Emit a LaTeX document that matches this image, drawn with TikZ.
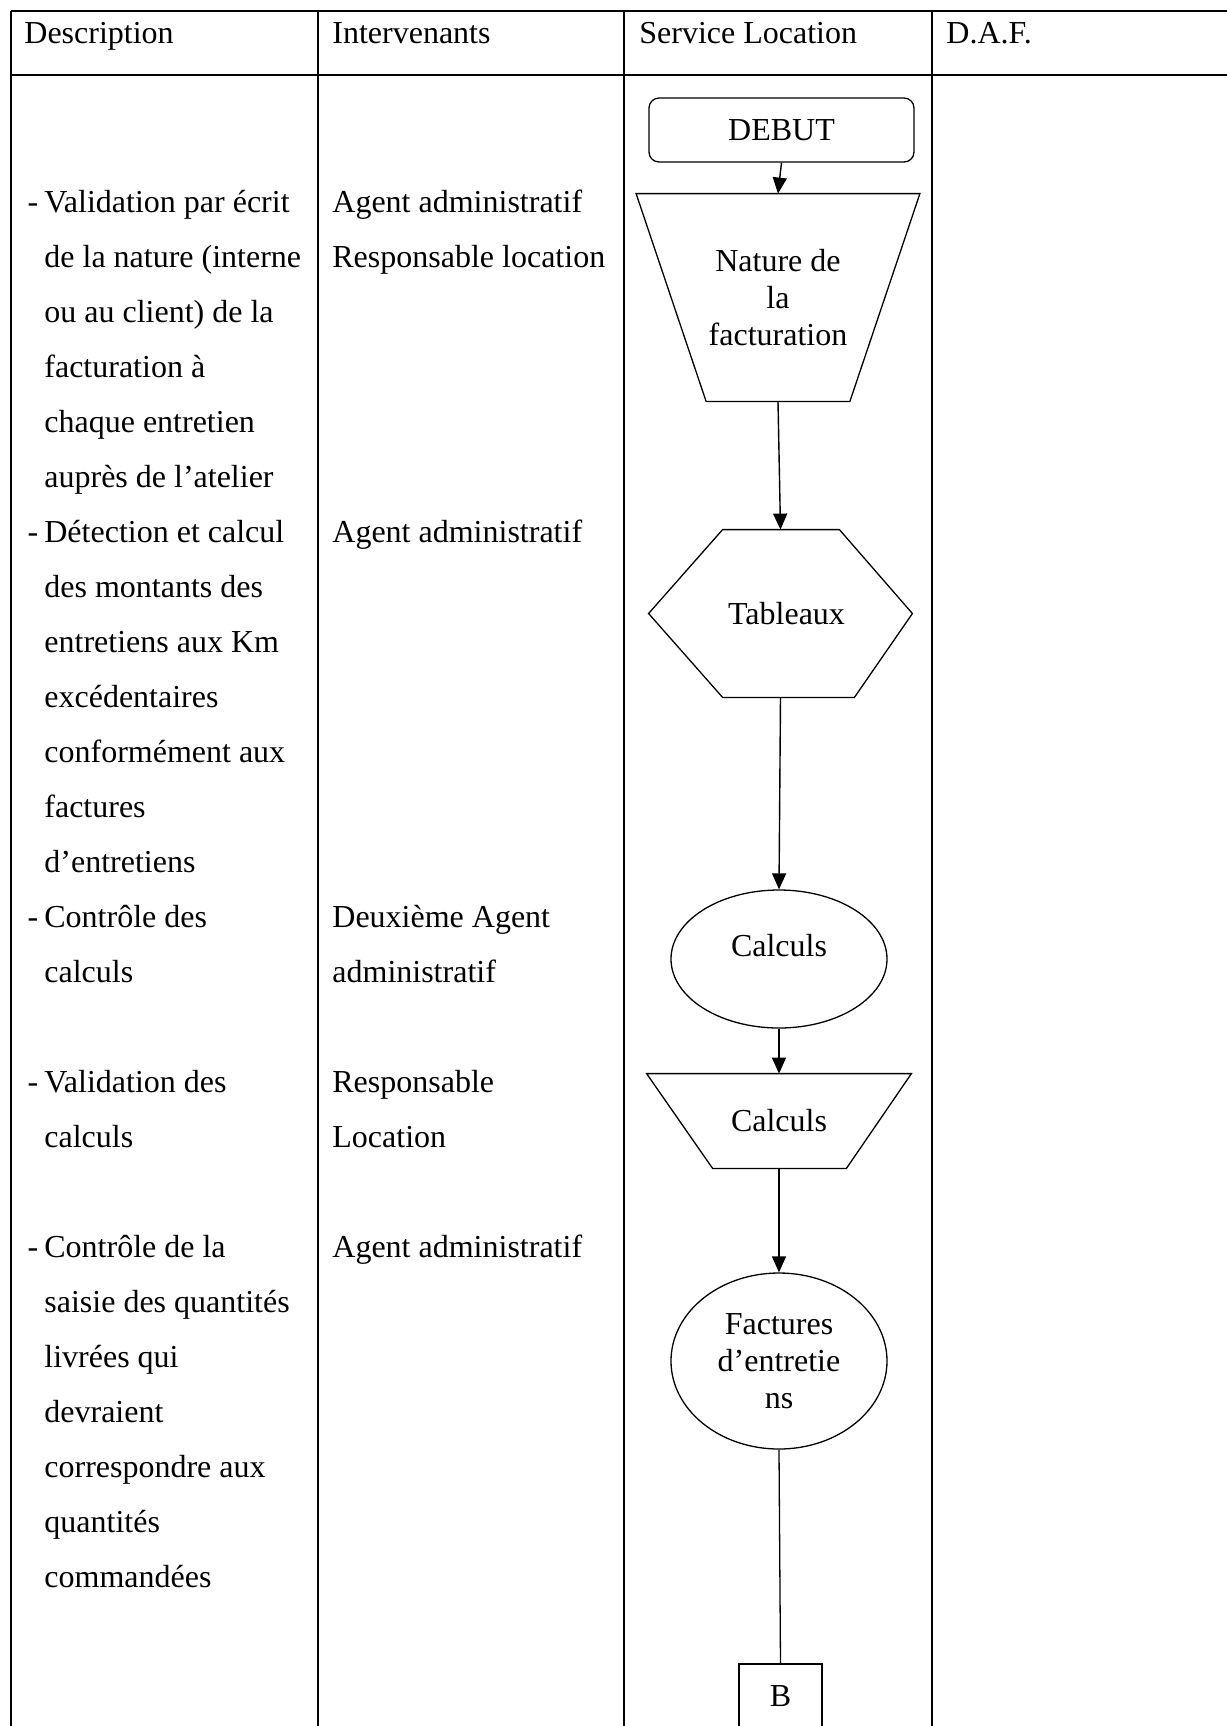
\documentclass[tikz,border=0pt]{standalone}
\usepackage{fontspec}
\setmainfont{Liberation Serif}
\usetikzlibrary{shapes.geometric,arrows.meta}

\begin{document}
\begin{tikzpicture}[x=0.5pt,y=-0.5pt,
  grid/.style={line width=0.8pt},
  shapeline/.style={line width=0.65pt},
  txt/.style={anchor=base west,inner sep=0pt,font=\fontsize{16pt}{18.4pt}\selectfont},
  inshape/.style={inner sep=0pt,align=center,font=\fontsize{16pt}{18.4pt}\selectfont},
  flow/.style={line width=0.7pt,-{Triangle[length=8pt,width=7pt]}},
]
\useasboundingbox (0,0) rectangle (1227,1726);

% table rules (the sheet continues beyond the right and bottom edges)
\draw[grid] (11,11) -- (1240,11);
\draw[grid] (11,75) -- (1240,75);
\foreach \x in {11,318,624,932} \draw[grid] (\x,11) -- (\x,1740);

% column headings
\node[txt] (hdesc) at (24,43) {Description};
\node[txt] (hint)  at (332,43) {Intervenants};
\node[txt] (hserv) at (639,43) {Service Location};
\node[txt] (hdaf)  at (946,43) {D.A.F.};

% description column, one node per printed line; the dash hangs left of the text
\newcommand{\itemdash}{\llap{-\hspace{3pt}}}
\foreach \l/\t in {0/{\itemdash Validation par écrit},
                   1/{de la nature (interne},
                   2/{ou au client) de la},
                   3/{facturation à},
                   4/{chaque entretien},
                   5/{auprès de l’atelier},
                   6/{\itemdash Détection et calcul},
                   7/{des montants des},
                   8/{entretiens aux Km},
                   9/{excédentaires},
                   10/{conformément aux},
                   11/{factures},
                   12/{d’entretiens},
                   13/{\itemdash Contrôle des},
                   14/{calculs},
                   16/{\itemdash Validation des},
                   17/{calculs},
                   19/{\itemdash Contrôle de la},
                   20/{saisie des quantités},
                   21/{livrées qui},
                   22/{devraient},
                   23/{correspondre aux},
                   24/{quantités},
                   25/{commandées}}
  \node[txt] (desc\l) at (44,212+55*\l) {\t};

% actors column
\foreach \l/\t in {0/{Agent administratif},
                   1/{Responsable location},
                   6/{Agent administratif},
                   13/{Deuxième Agent},
                   14/{administratif},
                   16/{Responsable},
                   17/{Location},
                   19/{Agent administratif}}
  \node[txt] (int\l) at (332,212+55*\l) {\t};

% flowchart in the Service Location column
\node[draw,shapeline,rounded corners=5pt,inshape,minimum width=132.5pt,minimum height=32pt] (debut) at (781.5,130) {DEBUT};

\node[inshape,minimum width=141.5pt,minimum height=103.5pt] (nature) at (778,297.5) {Nature de\\la\\facturation};
\draw[shapeline] (nature.north west) -- (nature.north east) -- ([xshift=-35pt]nature.south east)
  -- ([xshift=35pt]nature.south west) -- cycle;

\node[inshape,minimum width=131.5pt,minimum height=83.5pt] (tab) at (780.5,613.5) {\hspace*{6pt}Tableaux};
\draw[shapeline] ([xshift=37pt]tab.north west) -- ([xshift=-36.5pt]tab.north east) -- (tab.east)
  -- ([xshift=-29pt]tab.south east) -- ([xshift=37pt]tab.south west) -- (tab.west) -- cycle;

\node[draw,shapeline,ellipse,inner sep=0pt,minimum width=108pt,minimum height=69pt,
  label={[inshape,name=calc1text,yshift=6.5pt]center:Calculs}] (calc1) at (779,959) {};

\node[inshape,minimum width=132pt,minimum height=47pt] (calc2) at (779,1121) {Calculs};
\draw[shapeline] (calc2.north west) -- (calc2.north east) -- ([xshift=-32.5pt]calc2.south east)
  -- ([xshift=33pt]calc2.south west) -- cycle;

\node[draw,shapeline,ellipse,inshape,minimum width=108pt,minimum height=88pt] (fact) at (779,1361) {Factures\\d’entretie\\ns};

\node[draw,shapeline,inshape,minimum width=41.5pt,minimum height=32pt] (b) at (780.5,1696) {B};

% connectors
\draw[flow] (debut.south) -- (nature.north);
\draw[flow] (nature.south) -- (tab.north);
\draw[flow] (tab.south) -- (calc1.north);
\draw[flow] (calc1.south) -- (calc2.north);
\draw[flow] (calc2.south) -- (fact.north);
\draw[shapeline] (fact.south) -- (b.north);
\end{tikzpicture}
\end{document}
